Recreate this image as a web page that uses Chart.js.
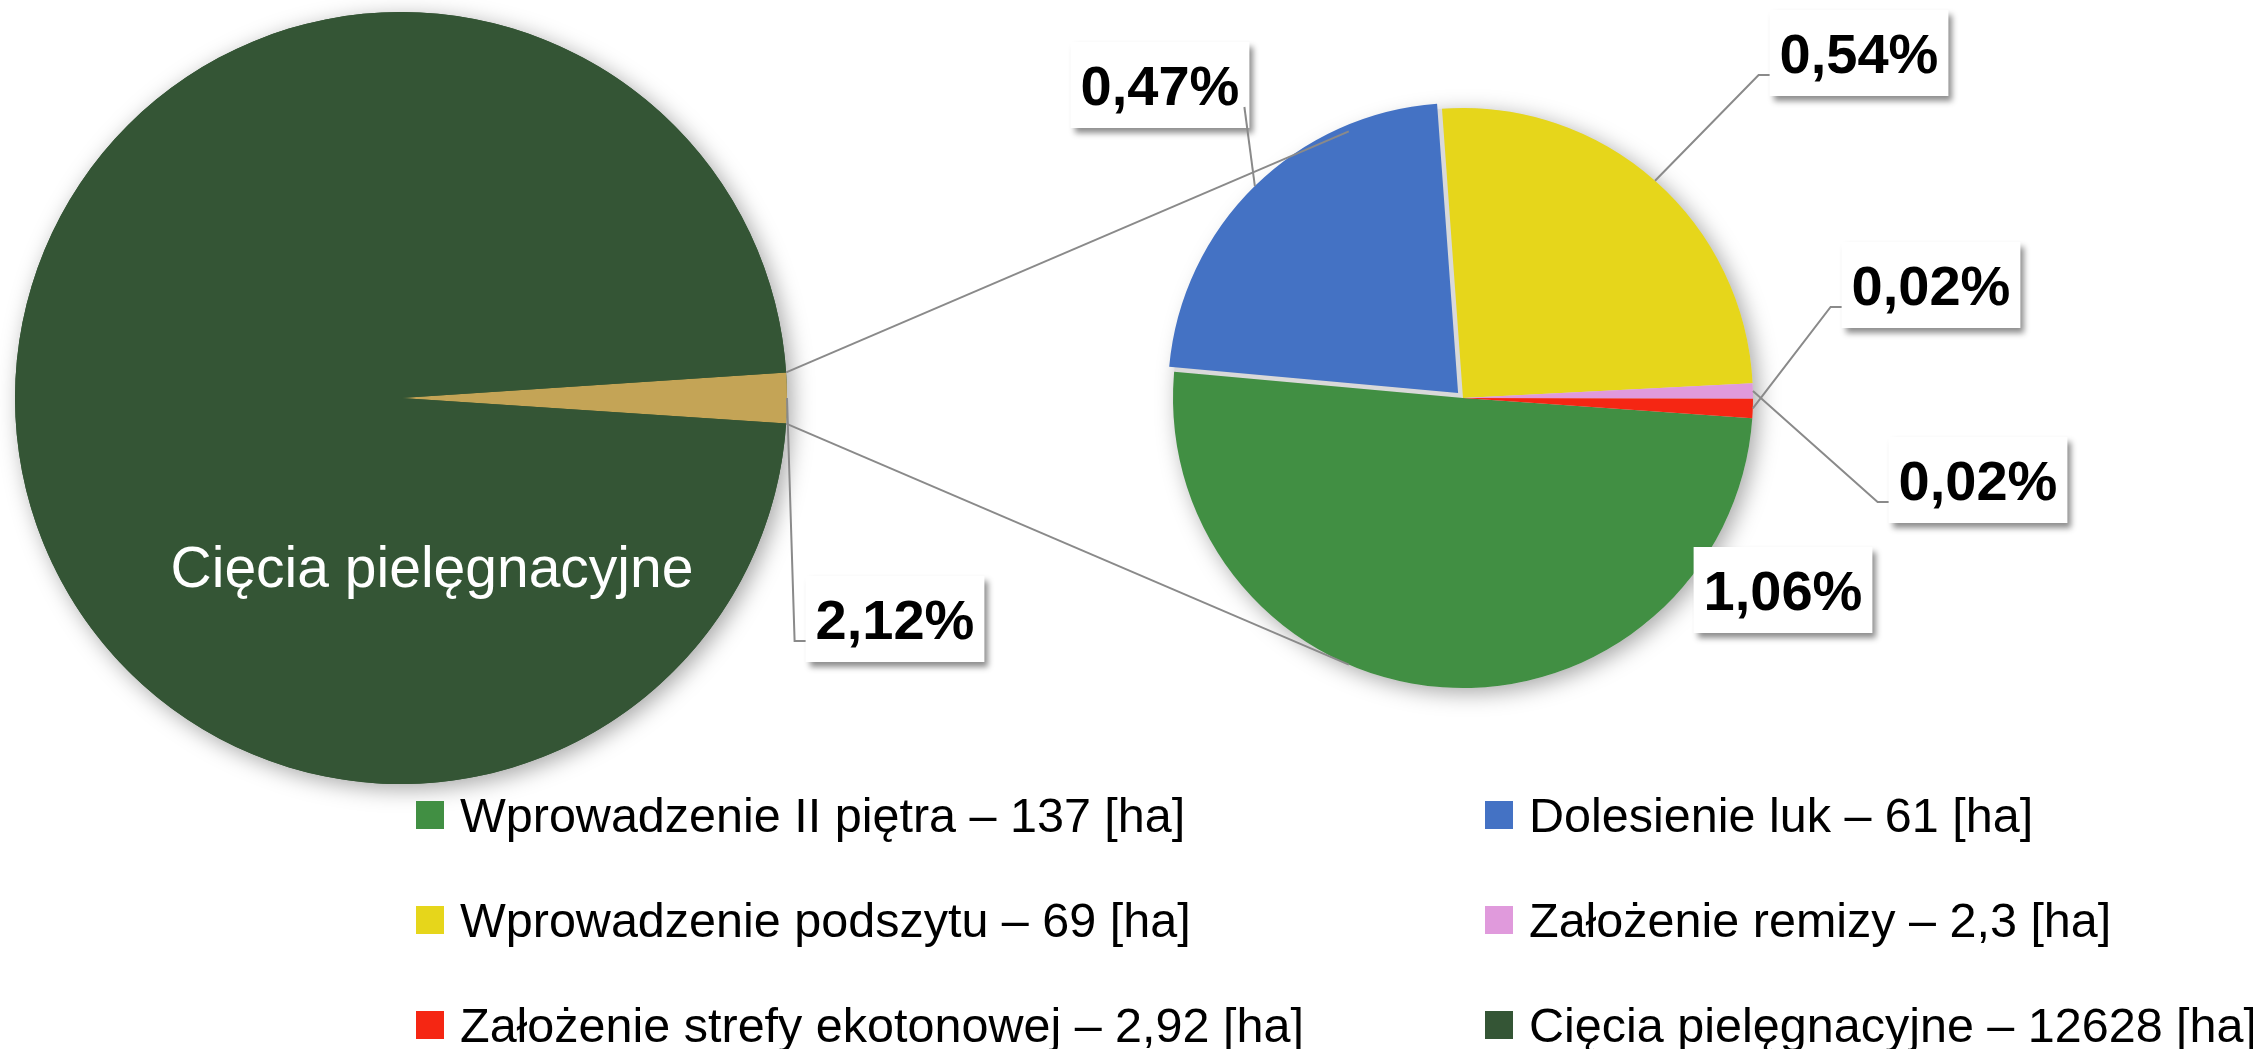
<!DOCTYPE html>
<html lang="pl">
<head>
<meta charset="utf-8">
<title>Zabiegi - wykres kołowy</title>
<script src="https://cdn.jsdelivr.net/npm/chart.js@4.4.1/dist/chart.umd.min.js"></script>
<style>
    html, body { margin: 0; padding: 0; background: #fff; }
    #wrap { position: relative; width: 2253px; height: 1049px; overflow: hidden; font-family: 'Liberation Sans', Arial, sans-serif; }
    #wrap canvas { position: absolute; left: 0; top: 0; }
    .legend-item { position: absolute; display: flex; align-items: center; height: 60px; line-height: 60px; font-size: 48.5px; color: #000; white-space: nowrap; }
    .legend-item .box { width: 28px; height: 28px; margin-right: 16px; flex: none; }
</style>
</head>
<body>
<div id="wrap">
    <canvas id="mainPie" width="2253" height="1049"></canvas>
    <canvas id="subPie" width="2253" height="1049"></canvas>
    <div id="legend"></div>
</div>
<script>
// small pie - categories in legend order
const subLabels = ['Wprowadzenie II piętra', 'Dolesienie luk', 'Wprowadzenie podszytu', 'Założenie remizy', 'Założenie strefy ekotonowej'];
const subValues = [137, 61, 69, 2.3, 2.92];
const subPct = [1.06, 0.47, 0.54, 0.02, 0.02];
const subColors = ['#418F43', '#4472C4', '#E6D61B', '#E09ADC', '#F52613'];

// big pie
const mainLabel = 'Cięcia pielęgnacyjne';
const mainValue = 12628;
const otherPct = 2.12;
const mainColor = '#345535';
const otherColor = '#C4A456';

const otherValue = subValues.reduce((a, b) => a + b, 0);

// label boxes, offset from pie centre
const subLabelPos = [
    { dx: 320, dy: 192, leader: false },
    { dx: -303, dy: -313, leader: true },
    { dx: 396, dy: -345, leader: true },
    { dx: 515, dy: 82, leader: true },
    { dx: 468, dy: -113, leader: true }
];
const otherLabelPos = { dx: 494, dy: 221 };
const innerLabelPos = { dx: 31, dy: 189 };

const fmt = v => String(v).replace('.', ',');
const fmtPct = v => v.toFixed(2).replace('.', ',') + '%';

function edgePoint(arc) {
    const mid = (arc.startAngle + arc.endAngle) / 2;
    const r = arc.outerRadius + (arc.options.offset || 0) / 4;
    return { x: arc.x + Math.cos(mid) * r, y: arc.y + Math.sin(mid) * r };
}

function drawLabel(ctx, text, cx, cy, pt) {
    ctx.save();
    ctx.font = 'bold 56px "Liberation Sans", Arial, sans-serif';
    const w = ctx.measureText(text).width + 20;
    const h = 86;
    const left = cx - w / 2, top = cy - h / 2;

    ctx.shadowColor = 'rgba(0,0,0,0.45)';
    ctx.shadowBlur = 6;
    ctx.shadowOffsetX = 4;
    ctx.shadowOffsetY = 5;
    ctx.fillStyle = '#fff';
    ctx.fillRect(left, top, w, h);
    ctx.shadowColor = 'transparent';

    ctx.fillStyle = '#000';
    ctx.textAlign = 'center';
    ctx.textBaseline = 'alphabetic';
    ctx.fillText(text, cx, cy + 20);

    if (pt) {
        const ly = cy + 22;
        ctx.strokeStyle = '#8a8a8a';
        ctx.lineWidth = 2;
        ctx.beginPath();
        if (pt.x < left) {
            ctx.moveTo(pt.x, pt.y);
            ctx.lineTo(left - 11, ly);
            ctx.lineTo(left, ly);
        } else {
            ctx.moveTo(pt.x, pt.y);
            ctx.lineTo(left + w - 5, ly);
        }
        ctx.stroke();
    }
    ctx.restore();
}

// soft shadow under the whole pie
const pieShadow = {
    id: 'pieShadow',
    beforeDatasetsDraw(chart, args, opts) {
        const arc = chart.getDatasetMeta(0).data[0];
        const ctx = chart.ctx;
        ctx.save();
        ctx.shadowColor = 'rgba(0,0,0,0.35)';
        ctx.shadowBlur = 22;
        ctx.shadowOffsetX = 5;
        ctx.shadowOffsetY = 5;
        ctx.fillStyle = opts.fill || '#d9d9d9';
        ctx.beginPath();
        ctx.arc(arc.x, arc.y, arc.outerRadius, 0, Math.PI * 2);
        ctx.fill();
        ctx.restore();
    }
};

const mainLabels = {
    id: 'mainLabels',
    afterDatasetsDraw(chart) {
        const ctx = chart.ctx;
        const arcs = chart.getDatasetMeta(0).data;
        const c = arcs[0];
        ctx.save();
        ctx.font = '57px "Liberation Sans", Arial, sans-serif';
        ctx.fillStyle = '#fff';
        ctx.textAlign = 'center';
        ctx.fillText(mainLabel, c.x + innerLabelPos.dx, c.y + innerLabelPos.dy);
        ctx.restore();
        drawLabel(ctx, fmtPct(otherPct), c.x + otherLabelPos.dx, c.y + otherLabelPos.dy, edgePoint(arcs[0]));
    }
};

const subLabelsPlugin = {
    id: 'subLabels',
    afterDatasetsDraw(chart) {
        const ctx = chart.ctx;
        const arcs = chart.getDatasetMeta(0).data;
        const c = arcs[0];

        // lines joining the two pies
        const other = mainChart.getDatasetMeta(0).data[0];
        const R = c.outerRadius;
        const corners = [other.startAngle, other.endAngle].map(a => ({
            x: other.x + Math.cos(a) * other.outerRadius,
            y: other.y + Math.sin(a) * other.outerRadius
        }));
        ctx.save();
        ctx.strokeStyle = '#8a8a8a';
        ctx.lineWidth = 2;
        corners.forEach((p, i) => {
            const d = Math.hypot(p.x - c.x, p.y - c.y);
            const phi = Math.atan2(p.y - c.y, p.x - c.x);
            const al = Math.acos(R / d);
            const t = [phi + al, phi - al].map(a => ({ x: c.x + Math.cos(a) * R, y: c.y + Math.sin(a) * R }));
            t.sort((a, b) => a.y - b.y);
            const tp = i === 0 ? t[0] : t[1];
            ctx.beginPath();
            ctx.moveTo(p.x, p.y);
            ctx.lineTo(tp.x, tp.y);
            ctx.stroke();
        });
        ctx.restore();

        arcs.forEach((arc, i) => {
            const pos = subLabelPos[i];
            drawLabel(ctx, fmtPct(subPct[i]), c.x + pos.dx, c.y + pos.dy, pos.leader ? edgePoint(arc) : null);
        });
    }
};

const mainChart = new Chart(document.getElementById('mainPie'), {
    type: 'pie',
    data: {
        labels: ['Pozostałe', mainLabel],
        datasets: [{
            data: [otherValue, mainValue],
            backgroundColor: [otherColor, mainColor],
            borderWidth: 0,
            hoverOffset: 0
        }]
    },
    options: {
        responsive: false,
        animation: false,
        events: [],
        rotation: 90 - otherValue / (otherValue + mainValue) * 180,
        layout: { padding: { left: 15, top: 12, right: 1466, bottom: 265 } },
        plugins: {
            legend: { display: false },
            tooltip: { enabled: false },
            pieShadow: { fill: mainColor }
        }
    },
    plugins: [pieShadow, mainLabels]
});

const subChart = new Chart(document.getElementById('subPie'), {
    type: 'pie',
    data: {
        labels: subLabels,
        datasets: [{
            data: subValues,
            backgroundColor: subColors,
            borderWidth: 0,
            offset: [0, 28, 0, 0, 0],
            hoverOffset: 0
        }]
    },
    options: {
        responsive: false,
        animation: false,
        events: [],
        rotation: 94,
        layout: { padding: { left: 1159, top: 94, right: 486, bottom: 347 } },
        plugins: {
            legend: { display: false },
            tooltip: { enabled: false },
            pieShadow: { fill: '#d9d9d9' }
        }
    },
    plugins: [pieShadow, subLabelsPlugin]
});

// legend, two columns
const legendItems = subLabels.map((l, i) => ({ text: l + ' – ' + fmt(subValues[i]) + ' [ha]', color: subColors[i] }));
legendItems.push({ text: mainLabel + ' – ' + fmt(mainValue) + ' [ha]', color: mainColor });

const legendCols = [416, 1485];
const legendRows = [815, 920, 1025];
const legend = document.getElementById('legend');
legendItems.forEach((item, i) => {
    const el = document.createElement('div');
    el.className = 'legend-item';
    el.style.left = legendCols[i % 2] + 'px';
    el.style.top = (legendRows[Math.floor(i / 2)] - 30) + 'px';
    el.innerHTML = '<span class="box" style="background:' + item.color + '"></span><span></span>';
    el.lastChild.textContent = item.text;
    legend.appendChild(el);
});
</script>
</body>
</html>
